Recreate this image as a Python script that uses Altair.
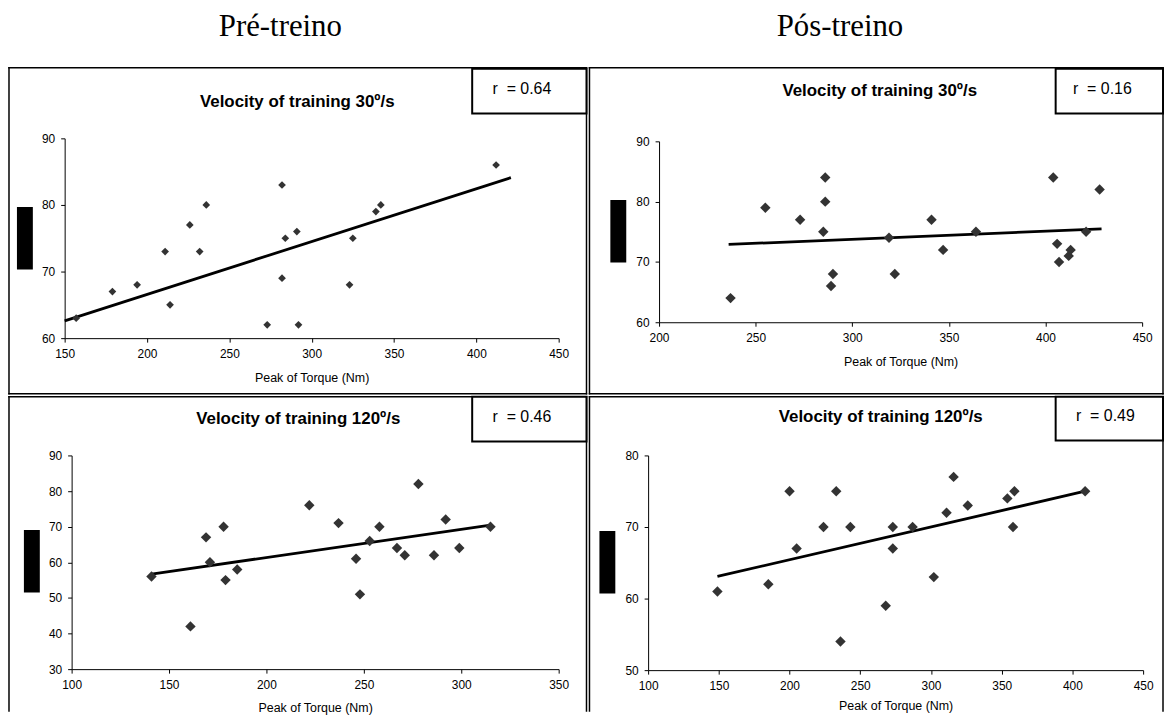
import altair as alt
import pandas as pd

FONT = "Liberation Sans"
SERIF = "Liberation Serif"

# ---------------- data ----------------
# Pre-training, 30 deg/s
pre30_torque = [157, 179, 194, 211, 214, 226, 232, 236, 273, 282, 282, 284, 291, 292, 323, 325, 339, 342, 412]
pre30_value = [63, 67, 68, 73, 65, 77, 73, 80, 62, 83, 69, 75, 76, 62, 68, 75, 79, 80, 86]
pre30_fit_x = [150, 421]
pre30_fit_y = [62.6, 84.1]

# Post-training, 30 deg/s
post30_torque = [237, 255, 273, 285, 286, 286, 289, 290, 319, 322, 341, 347, 364, 404, 406, 407, 412, 413, 421, 428]
post30_value = [64, 79, 77, 75, 84, 80, 66, 68, 74, 68, 77, 72, 75, 84, 73, 70, 71, 72, 75, 82]
post30_fit_x = [236, 429]
post30_fit_y = [72.9, 75.5]

# Pre-training, 120 deg/s
pre120_torque = [141, 161, 169, 171, 178, 179, 185, 222, 237, 246, 248, 253, 258, 267, 271, 278, 286, 292, 299, 315]
pre120_value = [56, 42, 67, 60, 70, 55, 58, 76, 71, 61, 51, 66, 70, 64, 62, 82, 62, 72, 64, 70]
pre120_fit_x = [141, 315]
pre120_fit_y = [56.7, 70.4]

# Post-training, 120 deg/s
post120_torque = [149, 185, 200, 205, 224, 233, 236, 243, 268, 273, 273, 287, 302, 311, 316, 326, 354, 359, 358, 409]
post120_value = [61, 62, 75, 67, 70, 75, 54, 70, 59, 70, 67, 70, 63, 72, 77, 73, 74, 75, 70, 75]
post120_fit_x = [149, 409]
post120_fit_y = [63.1, 75.0]

titles = ["Velocity of training 30º/s", "Velocity of training 30º/s",
          "Velocity of training 120º/s", "Velocity of training 120º/s"]
r_labels = ["r\u00a0 = 0.64", "r\u00a0 = 0.16", "r\u00a0 = 0.46", "r\u00a0 = 0.49"]
column_titles = ["Pré-treino", "Pós-treino"]
x_title = "Peak of Torque (Nm)"

x_ticks = [[150, 200, 250, 300, 350, 400, 450], [200, 250, 300, 350, 400, 450],
           [100, 150, 200, 250, 300, 350], [100, 150, 200, 250, 300, 350, 400, 450]]
y_ticks = [[60, 70, 80, 90], [60, 70, 80, 90], [30, 40, 50, 60, 70, 80, 90], [50, 60, 70, 80]]


def one():
    return alt.Data(values=[{"k": 1}])


def bar(x1, x2, y1, y2):
    return alt.Chart(one()).mark_rect(color="black", opacity=1, strokeWidth=0).encode(
        x=alt.value(x1), x2=alt.value(x2), y=alt.value(y1), y2=alt.value(y2))


def panel(px, py, fx, fy, xt, yt, xr, yr, W, H, title, txy, rlab, rxy, rbox, blk,
          xtitle_dy, msize, framed, top_label=None, top_xy=None, top_guide=False):
    pts = pd.DataFrame({"torque": px, "value": py})
    fit = pd.DataFrame({"torque": fx, "value": fy})
    xs = alt.Scale(domain=[xt[0], xt[-1]], range=xr, nice=False, zero=False)
    ys = alt.Scale(domain=[yt[0], yt[-1]], range=yr, nice=False, zero=False)
    xaxis = alt.Axis(values=xt, orient="bottom", offset=yr[0] - H, grid=False,
                     domainColor="black", domainWidth=1, tickColor="black", tickWidth=1,
                     tickSize=4, labelFont=FONT, labelFontSize=12, labelColor="black",
                     labelPadding=6, labelFlush=False, labelOverlap=False, format="d",
                     title=x_title, titleFont=FONT, titleFontSize=12.5,
                     titleFontWeight="normal", titleColor="black",
                     titleX=(xr[0] + xr[1]) / 2, titleY=xtitle_dy,
                     titleBaseline="middle", titleAlign="center")
    yaxis = alt.Axis(values=yt, orient="left", offset=-xr[0], grid=False,
                     domainColor="black", domainWidth=1, tickColor="black", tickWidth=1,
                     tickSize=4, labelFont=FONT, labelFontSize=12, labelColor="black",
                     labelPadding=6, labelFlush=False, labelOverlap=False, format="d",
                     title=None)
    points = alt.Chart(pts).mark_point(shape="diamond", filled=True, size=msize,
                                       color="#333333", opacity=1).encode(
        x=alt.X("torque:Q", scale=xs, axis=xaxis),
        y=alt.Y("value:Q", scale=ys, axis=yaxis))
    line = alt.Chart(fit).mark_line(color="black", strokeWidth=2.8).encode(
        x=alt.X("torque:Q", scale=xs, axis=xaxis),
        y=alt.Y("value:Q", scale=ys, axis=yaxis))
    ttl = alt.Chart(one()).mark_text(font=FONT, fontSize=17, fontWeight="bold",
                                      color="black", align="center",
                                      baseline="alphabetic").encode(
        x=alt.value(txy[0]), y=alt.value(txy[1]), text=alt.value(title))
    box = alt.Chart(one()).mark_rect(fill="white", stroke="black", strokeWidth=2).encode(
        x=alt.value(rbox[0]), x2=alt.value(rbox[1]), y=alt.value(rbox[2]), y2=alt.value(rbox[3]))
    rtxt = alt.Chart(one()).mark_text(font=FONT, fontSize=16, color="black",
                                       align="center", baseline="middle").encode(
        x=alt.value(rxy[0]), y=alt.value(rxy[1]), text=alt.value(rlab))
    black = bar(blk[0], blk[1], blk[2], blk[3])
    # panel frame drawn as thin filled bars (left, right, top, and bottom for framed panels)
    t = 0.75
    layers = [bar(-t, t, -t, H + t), bar(W - t, W + t, -t, H + t), bar(-t, W + t, -t, t)]
    if framed:
        layers.append(bar(-t, W + t, H - t, H + t))
    layers += [black, box, rtxt, ttl, line, points]
    if top_label is not None:
        layers.append(alt.Chart(one()).mark_text(font=SERIF, fontSize=31, color="black",
                                                  align="center", baseline="alphabetic").encode(
            x=alt.value(top_xy[0]), y=alt.value(top_xy[1]), text=alt.value(top_label)))
    if top_guide:
        layers.append(alt.Chart(one()).mark_rule(opacity=0).encode(
            x=alt.value(0), x2=alt.value(10), y=alt.value(-58)))
    view = alt.ViewBackground(stroke="transparent", strokeWidth=0, strokeOpacity=0,
                              fill="white")
    return alt.layer(*layers).properties(width=W, height=H, view=view)


H_BOTTOM = 316

p1 = panel(pre30_torque, pre30_value, pre30_fit_x, pre30_fit_y, x_ticks[0], y_ticks[0],
           [56, 553], [272, 71], 581, 328, titles[0], (290, 39), r_labels[0], (516, 21),
           (466, 581, 1, 46), (8, 24, 140, 203), 40, 60, True,
           top_label=column_titles[0], top_xy=(273, -32), top_guide=True)
p2 = panel(post30_torque, post30_value, post30_fit_x, post30_fit_y, x_ticks[1], y_ticks[1],
           [70, 556], [256, 74], 577, 328, titles[1], (292, 28), r_labels[1], (516, 21),
           (469, 577, 1, 46), (21, 37, 133, 196), 40, 110, True,
           top_label=column_titles[1], top_xy=(252, -32))
p3 = panel(pre120_torque, pre120_value, pre120_fit_x, pre120_fit_y, x_ticks[2], y_ticks[2],
           [63, 553], [274, 59], 581, H_BOTTOM, titles[2], (291, 27), r_labels[2], (516, 20),
           (466, 581, 0, 45), (15, 31, 134, 197), 39, 110, False)
p4 = panel(post120_torque, post120_value, post120_fit_x, post120_fit_y, x_ticks[3], y_ticks[3],
           [59, 557], [275, 59], 577, H_BOTTOM, titles[3], (293, 25), r_labels[3], (519, 19),
           (469, 577, 0, 44), (10, 26, 135, 198), 36, 110, False)

chart = alt.concat(p1, p2, p3, p4, columns=2, spacing=3, bounds="flush").properties(
    padding=0, background="white")

chart.save("out.html", embed_options={"renderer": "svg", "actions": False})
